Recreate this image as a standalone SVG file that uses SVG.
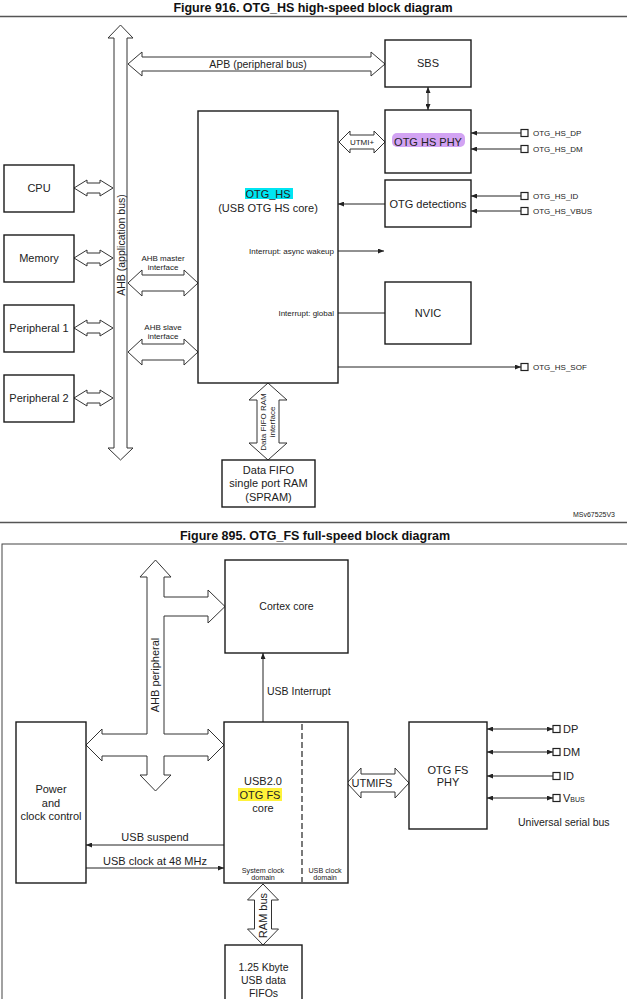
<svg xmlns="http://www.w3.org/2000/svg" width="627" height="999" viewBox="0 0 627 999">
<style>
text{font-family:"Liberation Sans",Arial,sans-serif;fill:#222}
.t{font-weight:bold;font-size:12.5px;text-anchor:middle;fill:#111}
.b{font-size:11px;text-anchor:middle}
.l{font-size:11px;text-anchor:start}
.s{font-size:8px}
.d{font-size:7.2px;text-anchor:middle}
.m{font-size:10.5px}
.box{fill:#fff;stroke:#1a1a1a;stroke-width:1.4}
.ba{fill:#fff;stroke:#333;stroke-width:1}
.ln{fill:none;stroke:#222;stroke-width:1}
.pin{fill:#fff;stroke:#222;stroke-width:1.2}
.sep{stroke:#555;stroke-width:1.6}
</style>
<defs>
<marker id="ah" viewBox="0 0 6 5" refX="6" refY="2.5" markerWidth="6" markerHeight="5" markerUnits="userSpaceOnUse" orient="auto-start-reverse"><path d="M0,0 L6,2.5 L0,5 z" fill="#222"/></marker>
</defs>

<rect width="627" height="999" fill="#fff"/>

<!-- ===== Figure 916 ===== -->
<text class="t" x="313" y="12">Figure 916. OTG_HS high-speed block diagram</text>
<line class="sep" x1="0" y1="16.5" x2="627" y2="16.5"/>

<g id="connectors-top">
  <polygon id="ahb-bus" class="ba" points="120.5,25 133,38 127,38 127,448 133,448 120.5,460 108,448 114,448 114,38 108,38"/>
  <polygon id="apb-bus" class="ba" points="128,64 142,52 142,57 371,57 371,52 385,64 371,76 371,71 142,71 142,76"/>
  <polygon class="ba" points="74,188 87,180 87,183 100,183 100,180 113,188 100,196 100,193 87,193 87,196"/>
  <polygon class="ba" points="74,258 87,250 87,253 100,253 100,250 113,258 100,266 100,263 87,263 87,266"/>
  <polygon class="ba" points="74,328 87,320 87,323 100,323 100,320 113,328 100,336 100,333 87,333 87,336"/>
  <polygon class="ba" points="74,398 87,390 87,393 100,393 100,390 113,398 100,406 100,403 87,403 87,406"/>
  <polygon class="ba" points="128,283 142,270 142,275 184,275 184,270 198,283 184,296 184,291 142,291 142,296"/>
  <polygon class="ba" points="128,352 142,339 142,344 184,344 184,339 198,352 184,365 184,360 142,360 142,365"/>
  <polygon class="ba" points="339,142 350,131 350,135 374,135 374,131 385,142 374,153 374,149 350,149 350,153"/>
  <polygon class="ba" points="268,383 287,400 279,400 279,443 287,443 268,460 249,443 257,443 257,400 249,400"/>
  <line class="ln" x1="428" y1="87" x2="428" y2="110" marker-start="url(#ah)" marker-end="url(#ah)"/>
  <line class="ln" x1="521" y1="133" x2="471" y2="133" marker-end="url(#ah)"/>
  <line class="ln" x1="521" y1="149" x2="471" y2="149" marker-end="url(#ah)"/>
  <line class="ln" x1="521" y1="196" x2="471" y2="196" marker-end="url(#ah)"/>
  <line class="ln" x1="521" y1="211" x2="471" y2="211" marker-end="url(#ah)"/>
  <line class="ln" x1="385" y1="204" x2="338" y2="204" marker-end="url(#ah)"/>
  <line class="ln" x1="338" y1="251" x2="384" y2="251" marker-end="url(#ah)"/>
  <line class="ln" x1="338" y1="313" x2="385" y2="313"/>
  <line class="ln" x1="338" y1="367" x2="521" y2="367" marker-end="url(#ah)"/>
</g>
<text class="m" x="258" y="67.5" text-anchor="middle">APB (peripheral bus)</text>
<text class="b" transform="translate(124.5,245) rotate(-90)" style="font-size:10.5px">AHB (application bus)</text>
<text class="s" x="163" y="261" text-anchor="middle">AHB master</text>
<text class="s" x="163" y="270" text-anchor="middle">interface</text>
<text class="s" x="163" y="330" text-anchor="middle">AHB slave</text>
<text class="s" x="163" y="339" text-anchor="middle">interface</text>
<text class="s" x="362" y="145" text-anchor="middle">UTMI+</text>
<g transform="translate(265.5,422) rotate(-90)"><text class="s" x="0" y="0" text-anchor="middle">Data FIFO RAM</text><text class="s" x="0" y="9.5" text-anchor="middle">interface</text></g>

<g id="cpu"><rect class="box" x="4" y="165" width="70" height="47"/><text class="b" x="39" y="192">CPU</text></g>
<g id="memory"><rect class="box" x="4" y="235" width="70" height="47"/><text class="b" x="39" y="262">Memory</text></g>
<g id="peripheral1"><rect class="box" x="4" y="305" width="70" height="47"/><text class="b" x="39" y="332">Peripheral 1</text></g>
<g id="peripheral2"><rect class="box" x="4" y="375" width="70" height="47"/><text class="b" x="39" y="402">Peripheral 2</text></g>
<g id="sbs"><rect class="box" x="385" y="40" width="86" height="47"/><text class="b" x="428" y="67">SBS</text></g>
<g id="otg-hs-core"><rect class="box" x="198" y="111" width="140" height="272"/>
  <rect x="245" y="188" width="48" height="11" fill="#00e5f2"/>
  <text class="b" x="268" y="198">OTG_HS</text>
  <text class="b" x="268" y="212">(USB OTG HS core)</text>
  <text class="s" x="334" y="254" text-anchor="end">Interrupt: async wakeup</text>
  <text class="s" x="334" y="316" text-anchor="end">Interrupt: global</text></g>
<g id="otg-hs-phy"><rect class="box" x="385" y="110" width="86" height="63"/>
  <rect x="392" y="133" width="73" height="14" rx="5" fill="#d2a3f3"/>
  <text class="b" x="428" y="146">OTG HS PHY</text></g>
<g id="otg-detections"><rect class="box" x="385" y="180" width="86" height="47"/><text class="b" x="428" y="208">OTG detections</text></g>
<g id="nvic"><rect class="box" x="385" y="282" width="86" height="62"/><text class="b" x="428" y="317">NVIC</text></g>
<g id="data-fifo"><rect class="box" x="222" y="460" width="93" height="47"/>
  <text class="b" x="268.5" y="474">Data FIFO</text>
  <text class="b" x="268.5" y="487">single port RAM</text>
  <text class="b" x="268.5" y="501">(SPRAM)</text></g>
<g id="pins-top">
  <rect class="pin" x="521" y="129.5" width="7" height="7"/><text class="s" x="533" y="136">OTG_HS_DP</text>
  <rect class="pin" x="521" y="145.5" width="7" height="7"/><text class="s" x="533" y="152">OTG_HS_DM</text>
  <rect class="pin" x="521" y="192.5" width="7" height="7"/><text class="s" x="533" y="199">OTG_HS_ID</text>
  <rect class="pin" x="521" y="207.5" width="7" height="7"/><text class="s" x="533" y="214">OTG_HS_VBUS</text>
  <rect class="pin" x="521" y="363.5" width="7" height="7"/><text class="s" x="533" y="370">OTG_HS_SOF</text>
</g>
<text x="615" y="517" text-anchor="end" style="font-size:7px">MSv67525V3</text>

<!-- ===== Figure 895 ===== -->
<line class="sep" x1="0" y1="522.5" x2="627" y2="522.5"/>
<text class="t" x="315" y="540">Figure 895. OTG_FS full-speed block diagram</text>
<rect x="2" y="544" width="640" height="480" fill="none" stroke="#444" stroke-width="1"/>

<g id="connectors-bottom">
  <polygon id="ahb-peripheral" class="ba" points="155.5,560 171,577 164,577 164,597 208,597 208,590 225,606.5 208,623 208,616 164,616 164,734 208,734 208,729 224,745 208,761 208,756 164,756 164,775 171,775 155.5,791 140,775 147,775 147,756 102,756 102,761 86,745 102,729 102,734 147,734 147,577 140,577"/>
  <polygon id="utmifs" class="ba" points="347,783 361,768 361,774 395,774 395,768 409,783 395,798 395,792 361,792 361,798"/>
  <polygon id="ram-bus" class="ba" points="263,884 278.5,900 271.5,900 271.5,929 278.5,929 263,945 247.5,929 254.5,929 254.5,900 247.5,900"/>
  <line class="ln" x1="263" y1="722" x2="263" y2="653" marker-end="url(#ah)"/>
  <line class="ln" x1="224" y1="845" x2="86" y2="845" marker-end="url(#ah)"/>
  <line class="ln" x1="86" y1="868" x2="224" y2="868" marker-end="url(#ah)"/>
  <line class="ln" x1="487" y1="729" x2="553" y2="729" marker-start="url(#ah)" marker-end="url(#ah)"/>
  <line class="ln" x1="487" y1="752" x2="553" y2="752" marker-start="url(#ah)" marker-end="url(#ah)"/>
  <line class="ln" x1="553" y1="776" x2="487" y2="776" marker-end="url(#ah)"/>
  <line class="ln" x1="487" y1="798" x2="553" y2="798" marker-start="url(#ah)" marker-end="url(#ah)"/>
</g>
<text class="b" transform="translate(159,675) rotate(-90)">AHB peripheral</text>
<text class="m" x="267" y="695">USB Interrupt</text>
<text class="b" x="155" y="841">USB suspend</text>
<text class="b" x="155" y="865">USB clock at 48 MHz</text>
<text class="b" x="372" y="787">UTMIFS</text>
<text class="b" transform="translate(267,915.5) rotate(-90)">RAM bus</text>

<g id="cortex-core"><rect class="box" x="225" y="560" width="123" height="93"/><text class="m" x="286.5" y="610" text-anchor="middle">Cortex core</text></g>
<g id="power-clock"><rect class="box" x="16" y="722" width="70" height="161"/>
  <text class="b" x="51" y="793">Power</text>
  <text class="b" x="51" y="807">and</text>
  <text class="b" x="51" y="820">clock control</text></g>
<g id="usb-otg-fs-core"><rect class="box" x="224" y="722" width="124" height="161"/>
  <line x1="302" y1="724" x2="302" y2="882" stroke="#333" stroke-width="1.3" stroke-dasharray="6,3"/>
  <rect x="238" y="788" width="44" height="13" fill="#fff23a"/>
  <text class="b" x="263" y="785">USB2.0</text>
  <text class="b" x="260" y="799">OTG FS</text>
  <text class="b" x="263" y="812">core</text>
  <text class="d" x="263" y="872.5">System clock</text>
  <text class="d" x="263" y="880">domain</text>
  <text class="d" x="325" y="872.5">USB clock</text>
  <text class="d" x="325" y="880">domain</text></g>
<g id="otg-fs-phy"><rect class="box" x="409" y="722" width="78" height="107"/>
  <text class="b" x="448" y="774">OTG FS</text>
  <text class="b" x="448" y="786">PHY</text></g>
<g id="pins-bottom">
  <rect class="pin" x="553" y="725.5" width="7" height="7"/><text class="l" x="563" y="733">DP</text>
  <rect class="pin" x="553" y="748.5" width="7" height="7"/><text class="l" x="563" y="756">DM</text>
  <rect class="pin" x="553" y="772.5" width="7" height="7"/><text class="l" x="563" y="780">ID</text>
  <rect class="pin" x="553" y="794.5" width="7" height="7"/><text class="l" x="563" y="802">V<tspan style="font-size:7px">BUS</tspan></text>
  <text class="m" x="518" y="826">Universal serial bus</text>
</g>
<g id="usb-data-fifos"><rect class="box" x="225" y="945" width="77" height="70"/>
  <text class="m" x="263.5" y="971" text-anchor="middle">1.25 Kbyte</text>
  <text class="m" x="263.5" y="984" text-anchor="middle">USB data</text>
  <text class="m" x="263.5" y="997" text-anchor="middle">FIFOs</text></g>
</svg>
